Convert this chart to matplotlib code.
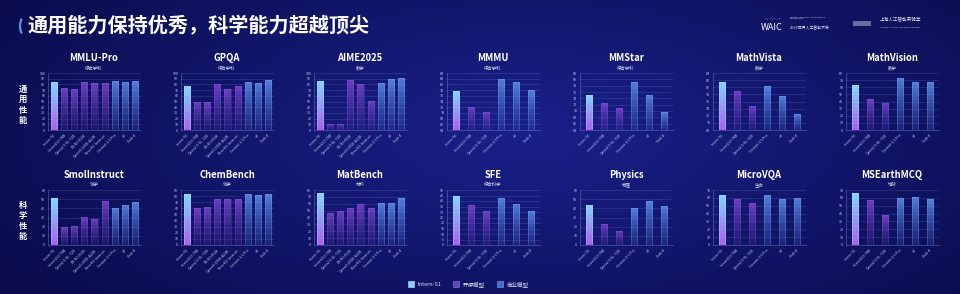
import numpy as np
import matplotlib
matplotlib.use("Agg")
import matplotlib.pyplot as plt
from matplotlib.patches import Patch, Arc, Rectangle

plt.rcParams['font.family'] = ['Noto Sans CJK SC', 'DejaVu Sans']

# ---------------- data ----------------
models9 = ["Intern-S1", "InternVL3-78B", "Qwen2.5-VL-72B", "DS-R1-0528", "Qwen3-235B-A22B",
           "Kimi-K2-Instruct", "Gemini-2.5 Pro", "o3", "Grok-4"]
groups9 = ["intern", "open", "open", "open", "open", "open", "com", "com", "com"]
models6 = ["Intern-S1", "InternVL3-78B", "Qwen2.5-VL-72B", "Gemini-2.5 Pro", "o3", "Grok-4"]
groups6 = ["intern", "open", "open", "com", "com", "com"]

mmlu_pro = [83.5, 73.0, 72.1, 83.4, 82.2, 82.7, 86.0, 85.0, 85.9]
gpqa = [77.3, 49.9, 49.0, 80.6, 71.1, 77.8, 83.8, 83.3, 87.5]
aime2025 = [86.0, 10.7, 10.9, 87.5, 81.5, 51.4, 83.0, 88.9, 91.7]
mmmu = [77.7, 72.2, 70.2, 81.9, 80.8, 77.9]
mmstar = [74.9, 72.5, 70.8, 79.3, 75.1, 69.6]
mathvista = [81.5, 79.0, 74.8, 80.3, 77.5, 72.5]
mathvision = [62.5, 43.1, 38.1, 73.0, 67.7, 67.3]

smolinstruct = [51.0, 19.4, 21.0, 30.7, 28.7, 48.1, 40.4, 43.9, 47.3]
chembench = [83.4, 61.3, 61.6, 75.6, 75.8, 75.3, 82.8, 81.6, 83.3]
matbench = [75.0, 47.0, 49.0, 54.0, 59.0, 54.0, 61.7, 61.6, 67.9]
sfe = [44.3, 36.2, 30.5, 43.0, 37.7, 31.2]
physics = [44.0, 23.1, 15.7, 40.0, 47.9, 42.8]
microvqa = [63.9, 59.1, 53.0, 63.1, 58.3, 59.5]
msearthmcq = [65.7, 57.2, 37.6, 59.9, 61.0, 58.0]

row1 = [("MMLU-Pro", "综合学科", mmlu_pro, 9, (0, 100, 10)),
        ("GPQA", "综合学科", gpqa, 9, (0, 100, 10)),
        ("AIME2025", "数学", aime2025, 9, (0, 100, 10)),
        ("MMMU", "综合学科", mmmu, 6, (64, 84, 2)),
        ("MMStar", "综合学科", mmstar, 6, (64, 82, 2)),
        ("MathVista", "数学", mathvista, 6, (68, 84, 2)),
        ("MathVision", "数学", mathvision, 6, (0, 80, 10))]
row2 = [("SmolInstruct", "化学", smolinstruct, 9, (0, 60, 10)),
        ("ChemBench", "化学", chembench, 9, (0, 90, 10)),
        ("MatBench", "材料", matbench, 9, (0, 80, 10)),
        ("SFE", "综合科学", sfe, 6, (0, 50, 5)),
        ("Physics", "物理", physics, 6, (0, 60, 10)),
        ("MicroVQA", "生命", microvqa, 6, (0, 70, 10)),
        ("MSEarthMCQ", "地球", msearthmcq, 6, (0, 70, 10))]

legend_labels = ["Intern-S1", "开源模型", "商业模型"]

# ---------------- style ----------------
W, H = 960, 294
fig = plt.figure(figsize=(W / 100, H / 100), dpi=100)

# background gradient
bg = fig.add_axes([0, 0, 1, 1], zorder=-10)
yy, xx = np.mgrid[0:H, 0:W]
cx = (xx - W * 0.55) / (W * 0.65)
cy = (yy - H * 0.45) / (H * 0.9)
r = np.clip(np.sqrt(cx ** 2 + cy ** 2), 0, 1)
c_in = np.array([26, 32, 138]) / 255
c_out = np.array([10, 12, 76]) / 255
img = c_in[None, None, :] * (1 - r[..., None]) + c_out[None, None, :] * r[..., None]
bg.imshow(img, extent=[0, W, H, 0], aspect='auto')
bg.set_xlim(0, W)
bg.set_ylim(H, 0)
bg.axis('off')

# header
bg.add_patch(Arc((27, 26), 14, 22, theta1=125, theta2=235, color=(0.45, 0.72, 1.0), lw=1.6, alpha=0.8))
bg.text(28, 26, "通用能力保持优秀，科学能力超越顶尖", color='white', fontsize=14.5,
        fontweight='bold', va='center', ha='left')
# logos (approximate)
bg.text(763, 19, "·ᵢ·ᵢ·ᵢ·", color='white', fontsize=3, ha='left', va='center')
bg.text(761, 27, "WAIC", color='white', fontsize=6.5, ha='left', va='center')
bg.text(790, 18, "WORLD ARTIFICIAL INTELLIGENCE\nCONFERENCE", color=(0.85, 0.87, 0.95),
        fontsize=1.6, ha='left', va='center', linespacing=1.1)
bg.text(790, 28, "2025世界人工智能大会", color=(0.9, 0.9, 0.97), fontsize=2.8, ha='left', va='center')
bg.add_patch(Rectangle((853, 21), 18, 5, color=(0.75, 0.78, 0.9), alpha=0.5, lw=0))
bg.text(880, 20, "上海人工智能实验室", color=(0.88, 0.88, 0.95), fontsize=3.3, ha='left', va='center')
bg.text(880, 27, "Shanghai Artificial Intelligence Laboratory", color=(0.75, 0.77, 0.9),
        fontsize=1.5, ha='left', va='center')

# row labels
bg.text(23, 105, "通\n用\n性\n能", color='white', fontsize=6, fontweight='bold',
        ha='center', va='center', linespacing=1.15)
bg.text(23, 221, "科\n学\n性\n能", color='white', fontsize=6, fontweight='bold',
        ha='center', va='center', linespacing=1.15)

grad = {
    "intern": ((130 / 255, 214 / 255, 1.0, 1.0), (172 / 255, 96 / 255, 236 / 255, 1.0)),
    "open": ((116 / 255, 66 / 255, 200 / 255, 0.95), (80 / 255, 46 / 255, 164 / 255, 0.22)),
    "com": ((86 / 255, 134 / 255, 224 / 255, 0.95), (62 / 255, 94 / 255, 192 / 255, 0.22)),
}
edge = {"intern": (0.7, 0.9, 1.0, 0.6), "open": (0.6, 0.45, 0.95, 0.35), "com": (0.55, 0.7, 1.0, 0.45)}


def gradient_img(top, bottom, n=64):
    t = np.linspace(0, 1, n)[:, None]
    a = np.array(top)[None, :] * (1 - t) + np.array(bottom)[None, :] * t
    return a[:, None, :]


def draw_panel(left_px, top_px, bottom_px, spec):
    name, sub, vals, n, (lo, hi, step) = spec
    ax = fig.add_axes([left_px / W, 1 - bottom_px / H, 93 / W, (bottom_px - top_px) / H])
    ax.set_facecolor('none')
    models = models9 if n == 9 else models6
    groups = groups9 if n == 9 else groups6
    x = np.arange(n)
    width = 0.6 if n == 9 else 0.45
    bars = ax.bar(x, np.array(vals) - lo, bottom=lo, width=width, color='none', zorder=3)
    for b, g in zip(bars, groups):
        x0 = b.get_x()
        w = b.get_width()
        y0 = b.get_y()
        h = b.get_height()
        im = ax.imshow(gradient_img(*grad[g]), extent=[x0, x0 + w, y0, y0 + h],
                       aspect='auto', zorder=3, interpolation='bilinear')
        im.set_clip_path(b)
        b.set_edgecolor(edge[g])
        b.set_linewidth(0.4)
        b.set_zorder(4)
    ax.set_xlim(-0.6, n - 0.4)
    ax.set_ylim(lo, hi)
    ax.set_yticks(np.arange(lo, hi + 0.01, step))
    ax.set_xticks(x)
    ax.set_xticklabels(models, rotation=45, ha='right', rotation_mode='anchor',
                       fontsize=2.6, color=(0.78, 0.8, 0.95))
    ax.tick_params(axis='y', labelsize=2.6, labelcolor=(0.78, 0.8, 0.95), length=0, pad=2)
    ax.tick_params(axis='x', length=0, pad=2)
    ax.grid(axis='y', color=(0.55, 0.6, 0.95), alpha=0.3, lw=0.4, zorder=0)
    for s in ['top', 'right']:
        ax.spines[s].set_visible(False)
    for s in ['left', 'bottom']:
        ax.spines[s].set_color((0.6, 0.65, 0.95, 0.45))
        ax.spines[s].set_linewidth(0.5)
    cxp = (left_px + 46) / W
    fig.text(cxp, 1 - (top_px - 15) / H, name, color='white', fontsize=6.8,
             fontweight='bold', ha='center', va='center')
    fig.text(cxp, 1 - (top_px - 5) / H, sub, color=(0.85, 0.87, 0.97), fontsize=3.2,
             ha='center', va='center')


for i, spec in enumerate(row1):
    draw_panel(48 + 133 * i, 73, 130, spec)
for i, spec in enumerate(row2):
    draw_panel(48 + 133 * i, 190, 245, spec)

handles = [Patch(facecolor=(0.55, 0.8, 1.0), edgecolor=(0.8, 0.9, 1.0), lw=0.4),
           Patch(facecolor=(0.38, 0.26, 0.72), edgecolor=(0.55, 0.45, 0.9), lw=0.4),
           Patch(facecolor=(0.28, 0.42, 0.78), edgecolor=(0.5, 0.65, 1.0), lw=0.4)]
leg = fig.legend(handles, legend_labels, loc='center', bbox_to_anchor=(468 / W, 10 / H),
                 ncol=3, frameon=False, fontsize=4, handlelength=1.1, handleheight=1.1,
                 columnspacing=2.2, handletextpad=0.6)
for t in leg.get_texts():
    t.set_color((0.85, 0.87, 0.97))

fig.savefig("out.png", dpi=100, facecolor=(10 / 255, 12 / 255, 76 / 255))
